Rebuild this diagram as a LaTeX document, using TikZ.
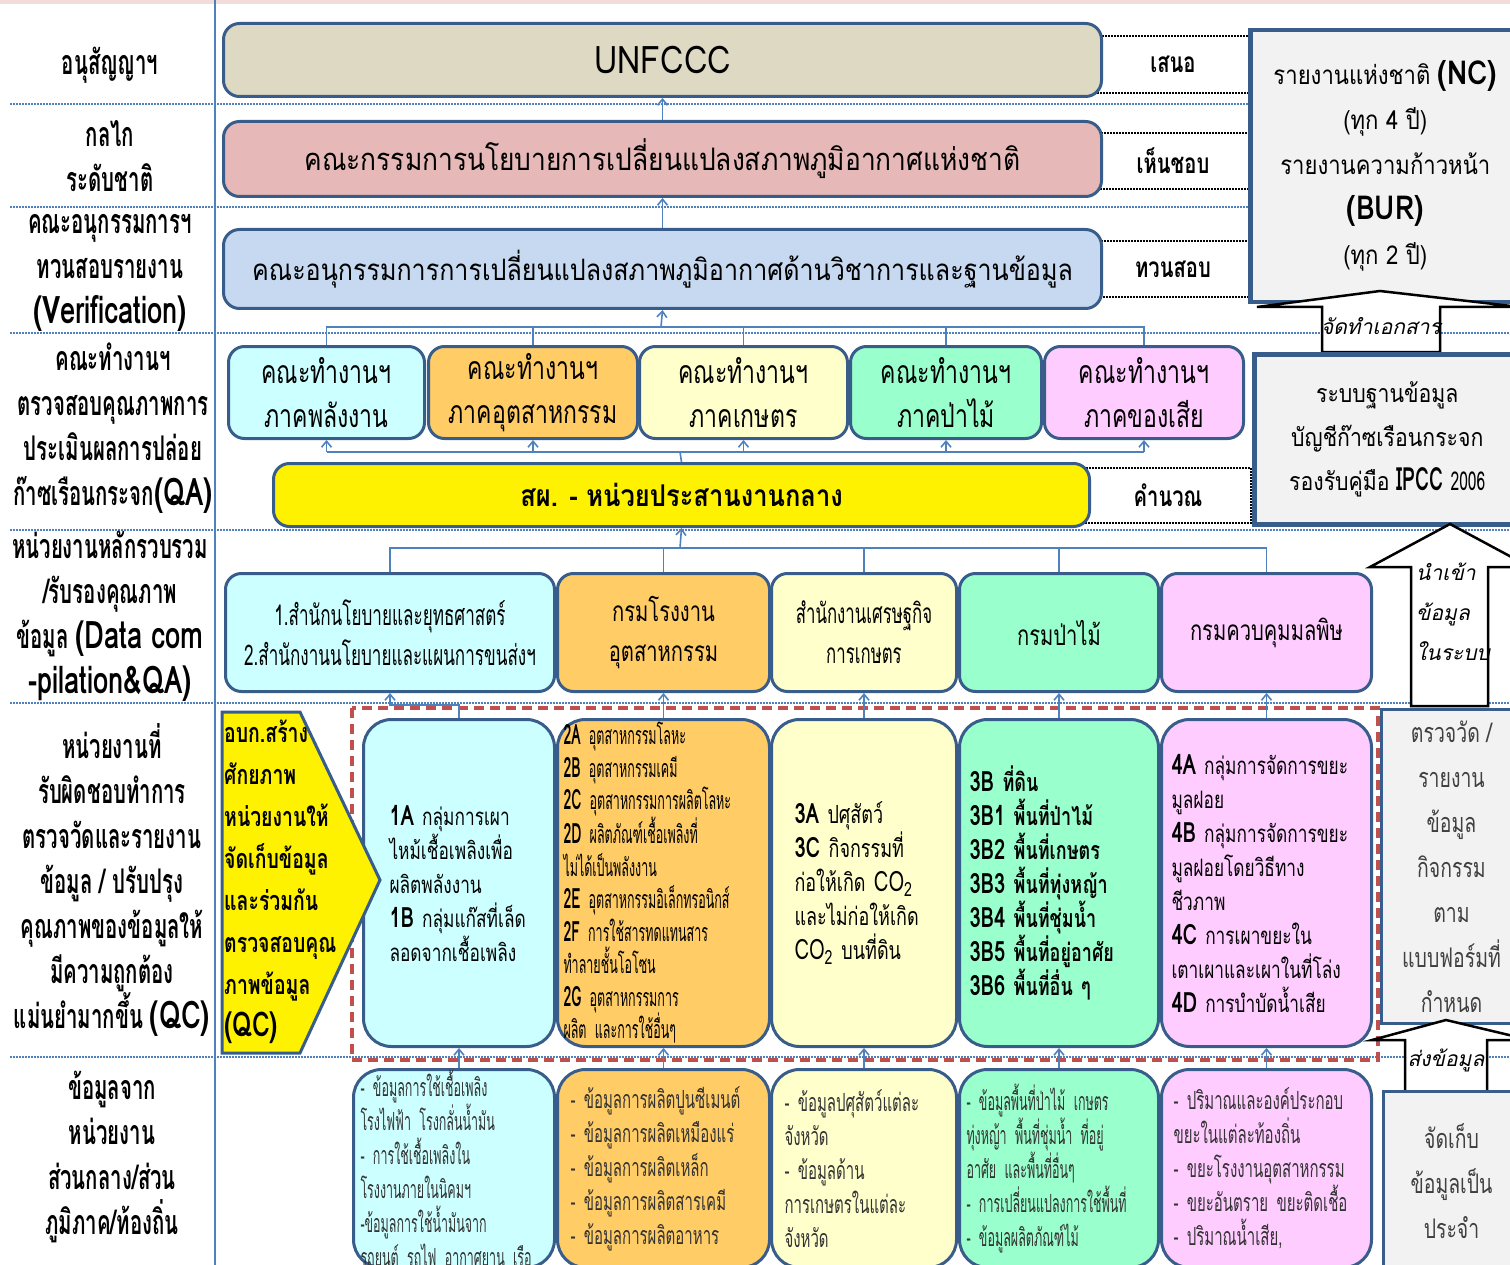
\documentclass[tikz,border=0pt]{standalone}
\usepackage{fontspec}
\setmainfont[Script=Thai]{Loma}
\newfontfamily\thaiwide[Script=Thai,FakeStretch=0.85]{Loma}
\newfontfamily\thainarrow[Script=Thai,FakeStretch=0.72]{Loma}
\newfontfamily\thaicond[Script=Thai,FakeStretch=0.6]{Loma}
\newfontfamily\thaixcond[Script=Thai,FakeStretch=0.5]{Loma}
\usetikzlibrary{arrows.meta}
\definecolor{boxblue}{HTML}{385D8A}
\definecolor{linkblue}{HTML}{4F81BD}
\definecolor{beigefill}{HTML}{DDD9C3}
\definecolor{rosefill}{HTML}{E6B9B8}
\definecolor{skyfill}{HTML}{C6D9F1}
\definecolor{cyanfill}{HTML}{CCFFFF}
\definecolor{orangefill}{HTML}{FFCC66}
\definecolor{creamfill}{HTML}{FFFFCC}
\definecolor{mintfill}{HTML}{99FFCC}
\definecolor{pinkfill}{HTML}{FFCCFF}
\definecolor{panelgrey}{HTML}{F2F2F2}
\definecolor{qcred}{HTML}{C0504D}
\definecolor{topstrip}{HTML}{F2DCDB}
\newcommand{\fsz}[2]{\fontsize{#1}{#2}\selectfont}
\newcommand{\lat}[1]{{\thainarrow\fsz{38}{45}#1}}
\tikzset{
  box/.style={draw=boxblue, line width=3pt, rounded corners=16pt, anchor=north west, inner sep=0pt, align=center},
  tallbox/.style={box, rounded corners=28pt, align=left},
  panel/.style={draw=boxblue, line width=4.5pt, fill=panelgrey, anchor=north west, inner sep=0pt, align=center},
  sidelbl/.style={draw=black, densely dotted, line width=2pt, anchor=north west, inner sep=0pt, font=\thainarrow\bfseries\fsz{28}{28}},
  rowlbl/.style={align=center, inner sep=0pt, font=\thaicond\bfseries\fsz{34}{45}},
  sepline/.style={draw=linkblue, line width=2.2pt, dash pattern=on 2pt off 1pt},
  conn/.style={draw=linkblue, line width=1.6pt},
  arr/.style={conn, -{Straight Barb[length=6pt,width=10pt]}},
  blockarrow/.style={draw=black, line width=2.5pt, fill=white},
  arrowtxt/.style={inner sep=0pt, font=\itshape\fsz{21}{40}},
}
\begin{document}
\begin{tikzpicture}[x=1pt,y=-1pt]
\useasboundingbox (0,0) rectangle (1510,1265);
\clip (0,0) rectangle (1510,1265);

% Background rows
\fill[topstrip] (0,0) rectangle (1510,4);
\draw[sepline] (10,104) -- (1510,104);
\draw[sepline] (10,207) -- (1510,207);
\draw[sepline] (10,333) -- (1510,333);
\draw[sepline] (10,530) -- (1510,530);
\draw[sepline] (10,703) -- (1510,703);
\draw[sepline] (10,1057) -- (1510,1057);
\draw[linkblue, line width=2.5pt] (215,0) -- (215,1265);

% Row labels
\node[rowlbl] (lbl1) at (110,65) {อนุสัญญาฯ};
\node[rowlbl] (lbl2) at (110,156) {กลไก\\ระดับชาติ};
\node[rowlbl] (lbl3) at (110,273) {คณะอนุกรรมการฯ\\ทวนสอบรายงาน\\\lat{(Verification)}};
\node[rowlbl] (lbl4) at (113,428) {คณะทำงานฯ\\ตรวจสอบคุณภาพการ\\ประเมินผลการปล่อย\\ก๊าซเรือนกระจก\lat{(QA)}};
\node[rowlbl] (lbl5) at (110,616) {หน่วยงานหลักรวบรวม\\/รับรองคุณภาพ\\ข้อมูล \lat{(Data com}\\\lat{-pilation\&QA)}};
\node[rowlbl] (lbl6) at (112,880) {หน่วยงานที่\\รับผิดชอบทำการ\\ตรวจวัดและรายงาน\\ข้อมูล / ปรับปรุง\\คุณภาพของข้อมูลให้\\มีความถูกต้อง\\แม่นยำมากขึ้น \lat{(QC)}};
\node[rowlbl] (lbl7) at (112,1157) {ข้อมูลจาก\\หน่วยงาน\\ส่วนกลาง/ส่วน\\ภูมิภาค/ท้องถิ่น};

% Side notes
\node[sidelbl, minimum width=152pt, minimum height=57pt] (seno) at (1096,35) {เสนอ};
\node[sidelbl, minimum width=152pt, minimum height=56pt] (hensob) at (1096,132) {เห็นชอบ};
\node[sidelbl, minimum width=152pt, minimum height=56pt] (tuansob) at (1096,240) {ทวนสอบ};
\node[sidelbl, minimum width=166pt, minimum height=55pt] (khamnuan) at (1084,467) {คำนวณ};

% National level
\node[box, fill=beigefill, minimum width=878pt, minimum height=73pt, font=\thaiwide\fsz{38}{38}] (unfccc) at (222,22) {UNFCCC};
\node[box, fill=rosefill, minimum width=878pt, minimum height=75pt, font=\thaiwide\fsz{31}{31}] (ncpc) at (222,120) {คณะกรรมการนโยบายการเปลี่ยนแปลงสภาพภูมิอากาศแห่งชาติ};
\node[box, fill=skyfill, minimum width=878pt, minimum height=79pt, font=\thaiwide\fsz{29.5}{31}] (subcom) at (222,228) {คณะอนุกรรมการการเปลี่ยนแปลงสภาพภูมิอากาศด้านวิชาการและฐานข้อมูล};

% Reports
\node[panel, minimum width=270pt, minimum height=272pt, font=\thaiwide\fsz{26}{45}] (ncrep) at (1248,28) {รายงานแห่งชาติ {\bfseries\fsz{33}{45}(NC)}\\(ทุก 4 ปี)\\รายงานความก้าวหน้า\\{\bfseries\fsz{33}{45}(BUR)}\\(ทุก 2 ปี)};
\draw[blockarrow] (1322,352) -- (1322,307) -- (1257,307) -- (1380,291) -- (1520,307) -- (1440,307) -- (1440,352) -- cycle;
\node[arrowtxt] (doclbl) at (1381,326) {จัดทำเอกสาร};
\node[panel, minimum width=266pt, minimum height=170pt, font=\thaiwide\fsz{25}{44}] (db) at (1252,352) {ระบบฐานข้อมูล\\บัญชีก๊าซเรือนกระจก\\รองรับคู่มือ {\thaicond\bfseries\fsz{32}{44}IPCC} {\thaicond\fsz{26}{44}2006}};
\draw[blockarrow] (1411,706) -- (1411,567) -- (1370,567) -- (1450,524) -- (1530,567) -- (1488,567) -- (1488,706) -- cycle;
\node[arrowtxt, anchor=west, align=left] (importlbl) at (1416,612) {นำเข้า\\ข้อมูล\\ในระบบ};

% Working groups
\node[box, fill=cyanfill, minimum width=196pt, minimum height=92pt, font=\thainarrow\fsz{32}{44}] (wg1) at (227,345) {คณะทำงานฯ\\ภาคพลังงาน};
\node[box, fill=orangefill, minimum width=209pt, minimum height=92pt, font=\thainarrow\fsz{32}{44}] (wg2) at (427,345) {คณะทำงานฯ\\ภาคอุตสาหกรรม};
\node[box, fill=creamfill, minimum width=208pt, minimum height=92pt, font=\thainarrow\fsz{32}{44}] (wg3) at (638,345) {คณะทำงานฯ\\ภาคเกษตร};
\node[box, fill=mintfill, minimum width=191pt, minimum height=92pt, font=\thainarrow\fsz{32}{44}] (wg4) at (849,345) {คณะทำงานฯ\\ภาคป่าไม้};
\node[box, fill=pinkfill, minimum width=199pt, minimum height=92pt, font=\thainarrow\fsz{32}{44}] (wg5) at (1043,345) {คณะทำงานฯ\\ภาคของเสีย};
\node[box, fill=yellow, minimum width=816pt, minimum height=63pt, font=\thaiwide\bfseries\fsz{30}{32}] (sp) at (272,462) {สผ. - หน่วยประสานงานกลาง};

% Agencies
\node[box, fill=cyanfill, minimum width=329pt, minimum height=118pt, font=\thaicond\fsz{28.5}{40}] (ag1) at (224,572) {1.สำนักนโยบายและยุทธศาสตร์\\2.สำนักงานนโยบายและแผนการขนส่งฯ};
\node[box, fill=orangefill, minimum width=212pt, minimum height=118pt, font=\thainarrow\fsz{28}{40}] (ag2) at (556,572) {กรมโรงงาน\\อุตสาหกรรม};
\node[box, fill=creamfill, minimum width=185pt, minimum height=118pt, font=\thaicond\fsz{28}{40}] (ag3) at (770,572) {สำนักงานเศรษฐกิจ\\การเกษตร};
\node[box, fill=mintfill, minimum width=199pt, minimum height=118pt, font=\thainarrow\fsz{28}{40}] (ag4) at (958,572) {กรมป่าไม้};
\node[box, fill=pinkfill, minimum width=210pt, minimum height=118pt, font=\thainarrow\fsz{28}{40}] (ag5) at (1160,572) {กรมควบคุมมลพิษ};

% QC units
\node[tallbox, fill=cyanfill, minimum width=191pt, minimum height=327pt, text width=139pt, font=\thainarrow\fsz{24}{34}] (qc1) at (362,718) {{\bfseries\fsz{28}{34}1A} กลุ่มการเผา\\ไหม้เชื้อเพลิงเพื่อ\\ผลิตพลังงาน\\{\bfseries\fsz{28}{34}1B} กลุ่มแก๊สที่เล็ด\\ลอดจากเชื้อเพลิง};
\node[tallbox, fill=orangefill, minimum width=212pt, minimum height=327pt, text width=200pt, font=\thaixcond\fsz{25}{32.5}] (qc2) at (556,718) {{\bfseries\fsz{28}{32.5}2A} อุตสาหกรรมโลหะ\\{\bfseries\fsz{28}{32.5}2B} อุตสาหกรรมเคมี\\{\bfseries\fsz{28}{32.5}2C} อุตสาหกรรมการผลิตโลหะ\\{\bfseries\fsz{28}{32.5}2D} ผลิตภัณฑ์เชื้อเพลิงที่\\ไม่ได้เป็นพลังงาน\\{\bfseries\fsz{28}{32.5}2E} อุตสาหกรรมอิเล็กทรอนิกส์\\{\bfseries\fsz{28}{32.5}2F} การใช้สารทดแทนสาร\\ทำลายชั้นโอโซน\\{\bfseries\fsz{28}{32.5}2G} อุตสาหกรรมการ\\ผลิต และการใช้อื่นๆ};
\node[tallbox, fill=creamfill, minimum width=185pt, minimum height=327pt, text width=139pt, font=\thainarrow\fsz{25}{34}] (qc3) at (770,718) {{\bfseries\fsz{28}{34}3A} ปศุสัตว์\\{\bfseries\fsz{28}{34}3C} กิจกรรมที่\\ก่อให้เกิด {\fsz{28}{34}CO\textsubscript{2}}\\และไม่ก่อให้เกิด\\{\fsz{28}{34}CO\textsubscript{2}} บนที่ดิน\\[34pt]};
\node[tallbox, fill=mintfill, minimum width=199pt, minimum height=327pt, text width=179pt, font=\thainarrow\bfseries\fsz{25}{34}] (qc4) at (958,718) {{\fsz{28}{34}3B} ที่ดิน\\{\fsz{28}{34}3B1} พื้นที่ป่าไม้\\{\fsz{28}{34}3B2} พื้นที่เกษตร\\{\fsz{28}{34}3B3} พื้นที่ทุ่งหญ้า\\{\fsz{28}{34}3B4} พื้นที่ชุ่มน้ำ\\{\fsz{28}{34}3B5} พื้นที่อยู่อาศัย\\{\fsz{28}{34}3B6} พื้นที่อื่น ๆ};
\node[tallbox, fill=pinkfill, minimum width=210pt, minimum height=327pt, text width=190pt, font=\thainarrow\fsz{24}{34}] (qc5) at (1160,718) {{\bfseries\fsz{28}{34}4A} กลุ่มการจัดการขยะ\\มูลฝอย\\{\bfseries\fsz{28}{34}4B} กลุ่มการจัดการขยะ\\มูลฝอยโดยวิธีทาง\\ชีวภาพ\\{\bfseries\fsz{28}{34}4C} การเผาขยะใน\\เตาเผาและเผาในที่โล่ง\\{\bfseries\fsz{28}{34}4D} การบำบัดน้ำเสีย};
\draw[qcred, line width=4pt, dash pattern=on 10pt off 6pt] (352,708) rectangle (1378,1060);
\draw[draw=boxblue, line width=3pt, fill=yellow] (222,712) -- (300,712) -- (380,880) -- (300,1053) -- (222,1053) -- cycle;
\node[anchor=west, align=left, inner sep=1pt, font=\thainarrow\bfseries\fsz{27}{42}] (qcnote) at (223,882) {อบก.สร้าง\\ศักยภาพ\\หน่วยงานให้\\จัดเก็บข้อมูล\\และร่วมกัน\\ตรวจสอบคุณ\\ภาพข้อมูล\\{\fsz{34}{42}(QC)}};

% Measurement and storage
\node[panel, line width=3pt, minimum width=140pt, minimum height=314pt, text=black!75, font=\thainarrow\fsz{27}{45}] (meas) at (1380,708) {ตรวจวัด /\\รายงาน\\ข้อมูล\\กิจกรรม\\ตาม\\แบบฟอร์มที่\\กำหนด};
\draw[blockarrow] (1405,1092) -- (1405,1040) -- (1372,1040) -- (1446,1020) -- (1530,1040) -- (1487,1040) -- (1487,1092) -- cycle;
\node[arrowtxt] (sendlbl) at (1446,1060) {ส่งข้อมูล};
\node[panel, line width=3pt, minimum width=136pt, minimum height=180pt, text=black!75, font=\thainarrow\fsz{27}{45}] (store) at (1382,1090) {จัดเก็บ\\ข้อมูลเป็น\\ประจำ};

% Source data
\node[tallbox, fill=cyanfill, minimum width=201pt, minimum height=198pt, text width=187pt, text=black!80, font=\thaixcond\fsz{25}{34}] (d1) at (352,1068) {- ข้อมูลการใช้เชื้อเพลิง\\โรงไฟฟ้า โรงกลั่นน้ำมัน\\- การใช้เชื้อเพลิงใน\\โรงงานภายในนิคมฯ\\-ข้อมูลการใช้น้ำมันจาก\\รถยนต์ รถไฟ อากาศยาน เรือ};
\node[tallbox, fill=orangefill, minimum width=212pt, minimum height=198pt, text width=186pt, text=black!80, font=\thaicond\fsz{25}{34}] (d2) at (556,1068) {- ข้อมูลการผลิตปูนซีเมนต์\\- ข้อมูลการผลิตเหมืองแร่\\- ข้อมูลการผลิตเหล็ก\\- ข้อมูลการผลิตสารเคมี\\- ข้อมูลการผลิตอาหาร};
\node[tallbox, fill=creamfill, minimum width=185pt, minimum height=198pt, text width=159pt, text=black!80, font=\thaicond\fsz{25}{34}] (d3) at (770,1068) {- ข้อมูลปศุสัตว์แต่ละ\\จังหวัด\\- ข้อมูลด้าน\\การเกษตรในแต่ละ\\จังหวัด};
\node[tallbox, fill=mintfill, minimum width=199pt, minimum height=198pt, text width=185pt, text=black!80, font=\thaixcond\fsz{25}{34}] (d4) at (958,1068) {- ข้อมูลพื้นที่ป่าไม้ เกษตร\\ทุ่งหญ้า พื้นที่ชุ่มน้ำ ที่อยู่\\อาศัย และพื้นที่อื่นๆ\\- การเปลี่ยนแปลงการใช้พื้นที่\\- ข้อมูลผลิตภัณฑ์ไม้};
\node[tallbox, fill=pinkfill, minimum width=210pt, minimum height=198pt, text width=186pt, text=black!80, font=\thaicond\fsz{25}{34}] (d5) at (1160,1068) {- ปริมาณและองค์ประกอบ\\ขยะในแต่ละท้องถิ่น\\- ขยะโรงงานอุตสาหกรรม\\- ขยะอันตราย ขยะติดเชื้อ\\- ปริมาณน้ำเสีย,};

% Connectors
\draw[arr] (ncpc.north) -- (unfccc.south);
\draw[arr] (subcom.north) -- (ncpc.south);
\coordinate (wgtop) at (661,327);
\draw[conn] (wg1.north) |- (wgtop) -| (wg5.north);
\draw[conn] (wg2.north) -- (wg2.north |- wgtop);
\draw[conn] (wg3.north) -- (wg3.north |- wgtop);
\draw[conn] (wg4.north) -- (wg4.north |- wgtop);
\draw[arr] (wgtop) -- (subcom.south);
\coordinate (wgbus) at (680,452);
\draw[conn] (sp.north) -- (wgbus);
\draw[conn] (wg1.south |- wgbus) -- (wg5.south |- wgbus);
\draw[arr] (wg1.south |- wgbus) -- (wg1.south);
\draw[arr] (wg2.south |- wgbus) -- (wg2.south);
\draw[arr] (wg3.south |- wgbus) -- (wg3.south);
\draw[arr] (wg4.south |- wgbus) -- (wg4.south);
\draw[arr] (wg5.south |- wgbus) -- (wg5.south);
\coordinate (agbus) at (680,548);
\draw[conn] (ag1.north) |- (agbus) -| (ag5.north);
\draw[conn] (ag2.north) -- (ag2.north |- agbus);
\draw[conn] (ag3.north) -- (ag3.north |- agbus);
\draw[conn] (ag4.north) -- (ag4.north |- agbus);
\draw[arr] (agbus) -- (sp.south);
\draw[arr] (qc1.north) -- ++(0,-13) -| (ag1.south);
\draw[arr] (ag2.south |- qc2.north) -- (ag2.south);
\draw[arr] (ag3.south |- qc3.north) -- (ag3.south);
\draw[arr] (ag4.south |- qc4.north) -- (ag4.south);
\draw[arr] (ag5.south |- qc5.north) -- (ag5.south);
\draw[arr] (qc1.south |- d1.north) -- (qc1.south);
\draw[arr] (qc2.south |- d2.north) -- (qc2.south);
\draw[arr] (qc3.south |- d3.north) -- (qc3.south);
\draw[arr] (qc4.south |- d4.north) -- (qc4.south);
\draw[arr] (qc5.south |- d5.north) -- (qc5.south);
\end{tikzpicture}
\end{document}
